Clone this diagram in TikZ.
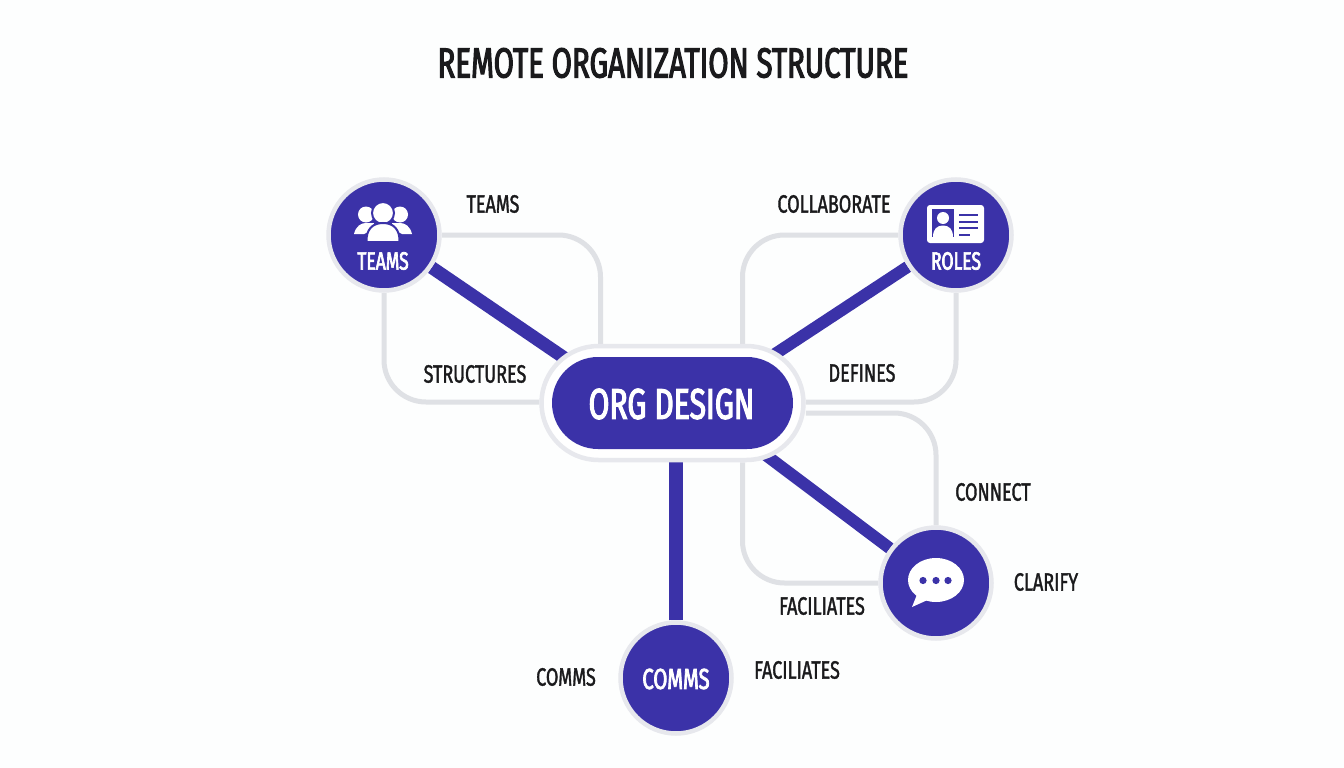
\documentclass[tikz,border=0pt]{standalone}
\usepackage{fontspec}
\setmainfont[FakeStretch=0.70]{Fira Sans}
\newfontfamily\labelfont[FakeStretch=0.72,FakeBold=1.4]{Fira Sans}
\newfontfamily\headfont[FakeStretch=0.70,FakeBold=2.6]{Fira Sans}
\usetikzlibrary{shapes.misc,calc,backgrounds}
\definecolor{brand}{HTML}{3B32A8}
\definecolor{ringc}{HTML}{E7E8ED}
\definecolor{linkc}{HTML}{DFE1E5}
\definecolor{ink}{HTML}{1A1A1C}
\definecolor{paper}{HTML}{FDFEFE}
\tikzset{
  x=1pt,y=-1pt,
  hub/.style={circle,fill=brand,draw=ringc,line width=4.5pt,minimum size=111pt,inner sep=0pt},
  pillouter/.style={rounded rectangle,fill=white,draw=ringc,line width=4.5pt,minimum width=262pt,minimum height=114pt,inner sep=0pt},
  pillinner/.style={rounded rectangle,fill=brand,minimum width=241pt,minimum height=92pt,inner sep=0pt},
  strong/.style={line width=12pt,draw=brand},
  soft/.style={line width=5pt,draw=linkc,rounded corners=42pt},
  lbl/.style={text=ink,inner sep=0pt,font=\labelfont\fontsize{25}{28}\selectfont},
  inlbl/.style={text=white,inner sep=0pt,font=\headfont\fontsize{25}{28}\selectfont},
  icon/.style={fill=white,draw=none},
}
\begin{document}
\begin{tikzpicture}
\useasboundingbox (0,0) rectangle (1344,768);
\node[inner sep=0pt,text=ink,font=\headfont\fontsize{42}{48}\selectfont] (title) at (673,63) {REMOTE ORGANIZATION STRUCTURE};

\node[pillouter] (org) at (672.5,403) {};
\node[hub] (teams) at (384,235) {};
\node[hub] (roles) at (956,235) {};
\node[hub] (chat) at (936,583) {};
\node[hub] (comms) at (676,678) {};

\begin{scope}[on background layer]
\fill[paper] (0,0) rectangle (1344,768);
\draw[strong,line width=13pt] (teams) -- ($(org.center)+(-42,0)$);
\draw[strong] (roles) -- ($(org.center)+(28,0)$);
\draw[strong] (chat) -- ($(org.center)+(24,0)$);
\draw[strong,line width=14pt] (comms) -- (comms|-org);
\draw[soft] (teams.east) -| ($(org.north)+(-72,0)$);
\draw[soft] (teams.south) |- ($(org.west)+(0,-1)$);
\draw[soft] (roles.west) -| ($(org.north)+(70,0)$);
\draw[soft] (roles.south) |- ($(org.east)+(0,-1)$);
\draw[soft] ($(org.east)+(0,10)$) -| (chat.north);
\draw[soft] ($(org.south)+(70,0)$) |- (chat.west);
\end{scope}

\node[pillinner] (orginner) at (org.center) {};
\node[inner sep=0pt,text=white,font=\headfont\fontsize{43}{48}\selectfont] (orgtext) at (671.5,404) {ORG DESIGN};

\node[inlbl] (teamstext) at (383,261) {TEAMS};
\node[inlbl] (rolestext) at (956,261) {ROLES};
\node[inlbl,font=\headfont\fontsize{29}{32}\selectfont] (commstext) at (676,679) {COMMS};

\node[lbl] (l1) at (493,204) {TEAMS};
\node[lbl] (l2) at (475,374) {STRUCTURES};
\node[lbl] (l3) at (834,204) {COLLABORATE};
\node[lbl] (l4) at (862,373) {DEFINES};
\node[lbl] (l5) at (993,492) {CONNECT};
\node[lbl] (l6) at (1046,582) {CLARIFY};
\node[lbl] (l7) at (822,606) {FACILIATES};
\node[lbl] (l8) at (566,677) {COMMS};
\node[lbl] (l9) at (797,670) {FACILIATES};

% people icon
\fill[icon] (366,214.5) circle (8);
\fill[icon] (400,214.5) circle (8);
\fill[icon] (354,234) .. controls (356,226) and (361,223) .. (366,223) -- (374,223) -- (372,230) -- (364,234) -- cycle;
\fill[icon] (412,234) .. controls (410,226) and (405,223) .. (400,223) -- (392,223) -- (394,230) -- (402,234) -- cycle;
\fill[icon,draw=brand,line width=2pt] (383,213) circle (11);
\fill[icon,draw=brand,line width=2pt] (366.5,242) .. controls (366,230) and (372,223) .. (383,223) .. controls (394,223) and (400,230) .. (399.5,242) -- cycle;

% id card icon
\fill[icon,rounded corners=3pt] (927,205) rectangle (984,243);
\fill[brand] (932,209) rectangle (954,237);
\fill[icon] (943,218) circle (6);
\fill[icon] (933,237) .. controls (933,229) and (937,225.5) .. (943,225.5) .. controls (949,225.5) and (953,229) .. (953,237) -- cycle;
\foreach \yy/\xe in {215/978,222/978,228/978,235/970}
  \draw[brand,line width=2.6pt] (959,\yy) -- (\xe,\yy);

% speech bubble icon
\fill[icon] (936,580) ellipse (28 and 22);
\fill[icon] (918,592) -- (912,607) -- (932,598) -- cycle;
\foreach \xx in {923,936,948}
  \fill[brand] (\xx,580.5) circle (3.6);
\end{tikzpicture}
\end{document}
